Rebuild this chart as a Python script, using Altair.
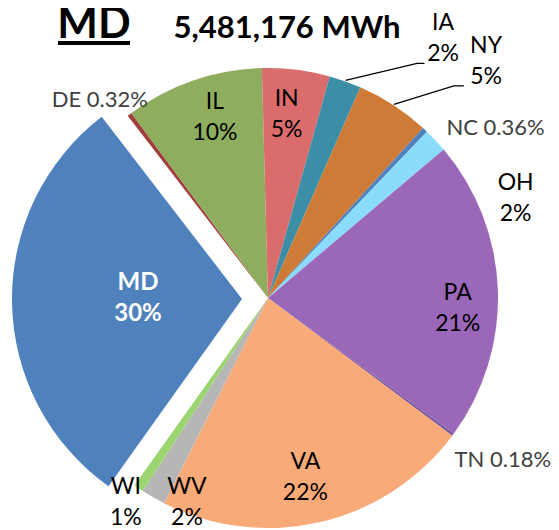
import math
import altair as alt
import pandas as pd

# ---- data ----
states = ["DE", "IL", "IN", "IA", "NY", "NC", "OH", "PA", "TN", "VA", "WV", "WI", "MD"]
shares = [0.32, 9.7, 4.75, 2.25, 5.2, 0.36, 1.7, 21.2, 0.18, 22.25, 1.7, 0.7, 29.7]
labels = ["DE 0.32%", "IL\n10%", "IN\n5%", "IA\n2%", "NY\n5%", "NC 0.36%", "OH\n2%",
          "PA\n21%", "TN 0.18%", "VA\n22%", "WV\n2%", "WI\n1%", "MD\n30%"]
colors = ["#A0403D", "#8EAD5E", "#DA6C6C", "#3B8EA5", "#CE7B37", "#4F81BD", "#8ADCFA",
          "#9B67B9", "#7B5AA0", "#F8AA79", "#B6B6B6", "#9CD56F", "#4F81BD"]
title_state = "MD"
title_total = "5,481,176 MWh"

# ---- style / layout ----
W, H = 543, 522
CX, CY = 260, 290
R = 230
START_DEG = 322.4
EXPLODE = ("MD", -26, 1)
LH = 31
# label placement: (angle shift in degrees from slice middle, radius px)
label_pos = {
    "DE": (-3.3, 260), "IL": (2.6, 188), "IN": (-1.2, 184), "IA": (14.4, 313),
    "NY": (9.6, 322), "NC": (10.2, 284), "OH": (21.3, 267), "PA": (5.3, 190),
    "TN": (-1.9, 285), "VA": (1.4, 183), "WV": (-8.3, 220), "WI": (0.6, 249),
    "MD": (1.1, 104),
}
gray_labels = {"DE", "NC", "TN"}
leaders = {"IA": (12.8, 278, 7.5), "NY": (8.2, 282, 10)}
FONT = "Lato"

total = sum(shares)
rows = []
cum = 0.0
for i, (s, v, lab, c) in enumerate(zip(states, shares, labels, colors)):
    start, end = cum, cum + v
    cum = end
    mid_deg = START_DEG + (start + v / 2) / total * 360
    shift, lr = label_pos[s]
    lt = start + v / 2 + shift / 360 * total
    rows.append(dict(state=s, value=v, start=start, end=end, label=lab, color=c,
                     order=i, lt=lt, lr=lr, mid_deg=mid_deg,
                     gray=s in gray_labels, md=s == EXPLODE[0]))
df = pd.DataFrame(rows)

theta_scale = alt.Scale(domain=[0, total],
                        range=[math.radians(START_DEG), math.radians(START_DEG) + 2 * math.pi])

base = alt.Chart(df)
color_enc = alt.Color("state:N", scale=alt.Scale(domain=states, range=colors), legend=None)

pie = base.transform_filter("!datum.md").mark_arc(outerRadius=R, strokeWidth=0).encode(
    theta=alt.Theta("start:Q", scale=theta_scale),
    theta2="end:Q",
    color=color_enc,
    x=alt.value(CX), y=alt.value(CY),
)
pie_md = base.transform_filter("datum.md").mark_arc(outerRadius=R, strokeWidth=0).encode(
    theta=alt.Theta("start:Q", scale=theta_scale),
    theta2="end:Q",
    color=color_enc,
    x=alt.value(CX + EXPLODE[1]), y=alt.value(CY + EXPLODE[2]),
)

def text_layer(filt, color, x, y, bold=False, size=23, dy=0):
    return base.transform_filter(filt).mark_text(
        lineBreak="\n", font=FONT, fontSize=size, fontWeight="bold" if bold else "normal",
        color=color, align="center", baseline="middle", lineHeight=LH, dy=dy,
    ).encode(
        theta=alt.Theta("lt:Q", scale=theta_scale, stack=None),
        radius=alt.Radius("lr:Q", scale=None),
        text="label:N",
        x=alt.value(x), y=alt.value(y),
    )

lab_black = text_layer("!datum.md && !datum.gray", "#000000", CX, CY, dy=-LH / 2)
lab_gray = text_layer("datum.gray", "#404040", CX, CY, size=22)
lab_md = text_layer("datum.md", "#FFFFFF", CX + EXPLODE[1], CY + EXPLODE[2], bold=True,
                    size=24, dy=-LH / 2)

# leader lines from data-derived angles
lpts = []
for s, (shift, r2, hx) in leaders.items():
    m = df.loc[df.state == s, "mid_deg"].iloc[0]
    a0 = math.radians(m)
    a1 = math.radians(m + shift)
    p0 = (CX + (R + 1) * math.sin(a0), CY - (R + 1) * math.cos(a0))
    p1 = (CX + r2 * math.sin(a1), CY - r2 * math.cos(a1))
    p2 = (p1[0] + hx, p1[1])
    for k, p in enumerate([p0, p1, p2]):
        lpts.append(dict(state=s, k=k, px=p[0], py=p[1]))
ldf = pd.DataFrame(lpts)
leader = alt.Chart(ldf).mark_line(color="#000000", strokeWidth=1.3).encode(
    x=alt.X("px:Q", scale=None), y=alt.Y("py:Q", scale=None),
    detail="state:N", order="k:Q",
)

# titles
tdf = pd.DataFrame([{"t": title_state}])
t1 = alt.Chart(tdf).mark_text(font=FONT, fontSize=43, fontWeight="bold", color="#000000",
                              align="center", baseline="alphabetic").encode(
    text="t:N", x=alt.value(86), y=alt.value(30))
ul = alt.Chart(tdf).mark_rule(color="#000000", strokeWidth=4).encode(
    x=alt.value(50), x2=alt.value(122), y=alt.value(35))
t2df = pd.DataFrame([{"t": title_total}])
t2 = alt.Chart(t2df).mark_text(font=FONT, fontSize=31, fontWeight="bold", color="#000000",
                               align="center", baseline="alphabetic").encode(
    text="t:N", x=alt.value(279), y=alt.value(30))

chart = alt.layer(pie, pie_md, leader, lab_black, lab_gray, lab_md, t1, ul, t2).properties(
    width=W, height=H, padding=0, autosize="none"
).configure_view(stroke=None)

chart.save("out.html", embed_options={"renderer": "svg", "actions": False})
